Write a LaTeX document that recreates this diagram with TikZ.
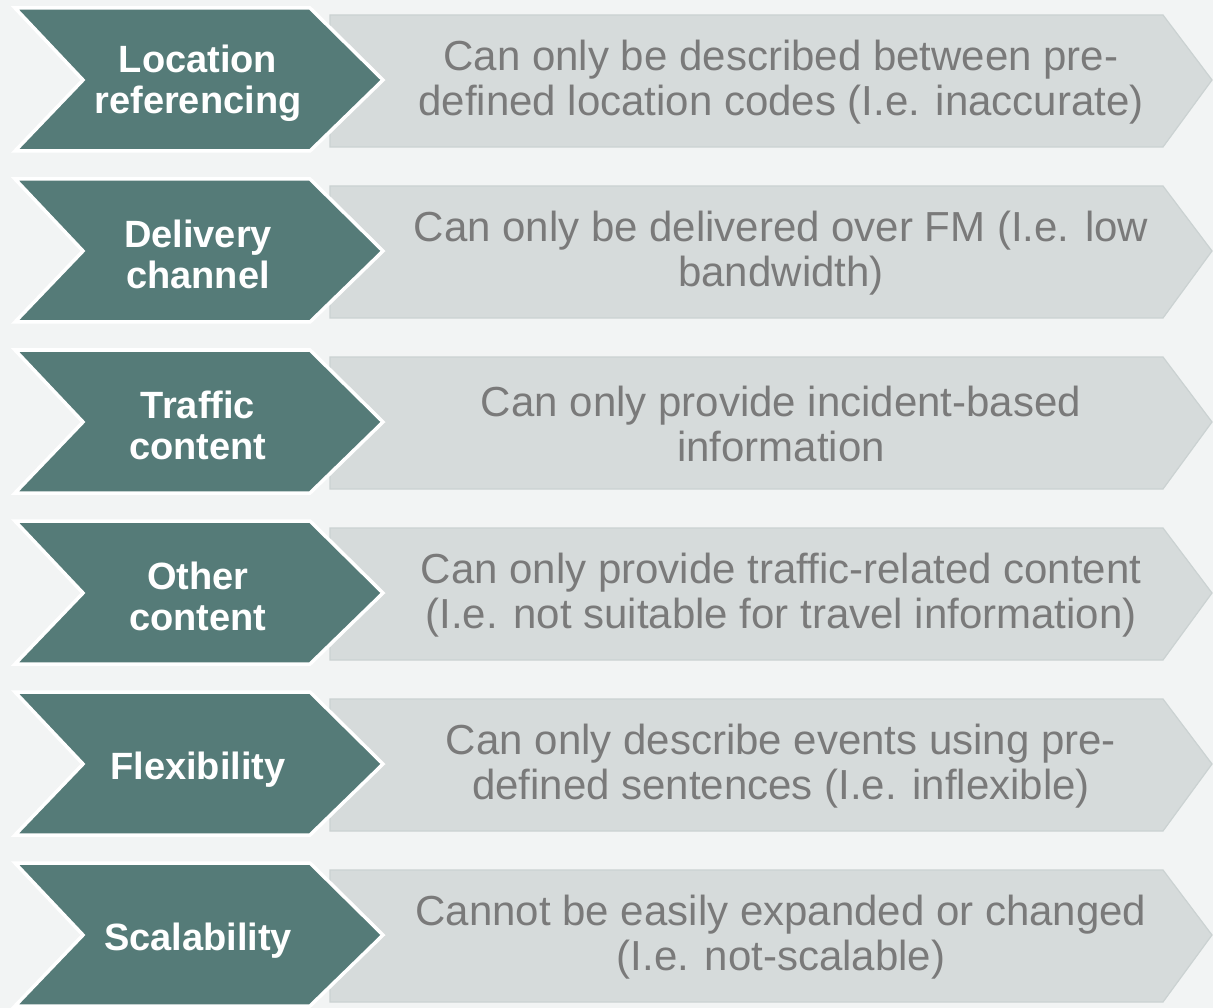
\documentclass[tikz,border=0pt]{standalone}
\usepackage{fontspec}
\setmainfont[Ligatures={NoCommon}]{Liberation Sans}
\definecolor{bgc}{HTML}{F2F4F4}
\definecolor{tealc}{HTML}{557B78}
\definecolor{lightg}{HTML}{D6DBDB}
\definecolor{greyedge}{HTML}{CBD2D2}
\definecolor{txtgrey}{HTML}{7A7A7A}
\begin{document}
\begin{tikzpicture}[x=1pt,y=-1pt,
  lab/.style={text=white,font=\fontsize{38}{41}\selectfont\bfseries,align=center,inner sep=0pt},
  desc/.style={text=txtgrey,font=\fontsize{42}{45}\selectfont,align=center,inner sep=0pt},
  darkchev/.style={fill=tealc,draw=white,line width=3.5pt,line join=miter},
  greychev/.style={fill=lightg,draw=greyedge,line width=1.2pt,line join=miter}]
\fill[bgc] (0,0) rectangle (1213,1008);
\useasboundingbox (0,0) rectangle (1213,1008);
\foreach \c/\o/\l/\r [count=\k] in {
  80/3/{Location\\referencing}/{Can only be described between pre-\\defined location codes (I.e. inaccurate)},
  251/3/{Delivery\\channel}/{Can only be delivered over FM (I.e. low\\bandwidth)},
  422/3/{Traffic\\content}/{Can only provide incident-based\\information},
  593/3/{Other\\content}/{Can only provide traffic-related content\\(I.e. not suitable for travel information)},
  764/6/{Flexibility}/{Can only describe events using pre-\\defined sentences (I.e. inflexible)},
  935/6/{Scalability}/{Cannot be easily expanded or changed\\(I.e. not-scalable)}}
{
  \draw[greychev] (330,\c-65) -- (1163,\c-65) -- (1212,\c) -- (1163,\c+67) -- (330,\c+67) -- cycle;
  \draw[darkchev] (15,\c-72) -- (310,\c-72) -- (383,\c) -- (310,\c+71) -- (15,\c+71) -- (83,\c) -- cycle;
  \node[lab] (lab\k) at (198,\c+\o) {\l};
  \node[desc] (desc\k) at (781,\c+2) {\r};
}
\end{tikzpicture}
\end{document}
